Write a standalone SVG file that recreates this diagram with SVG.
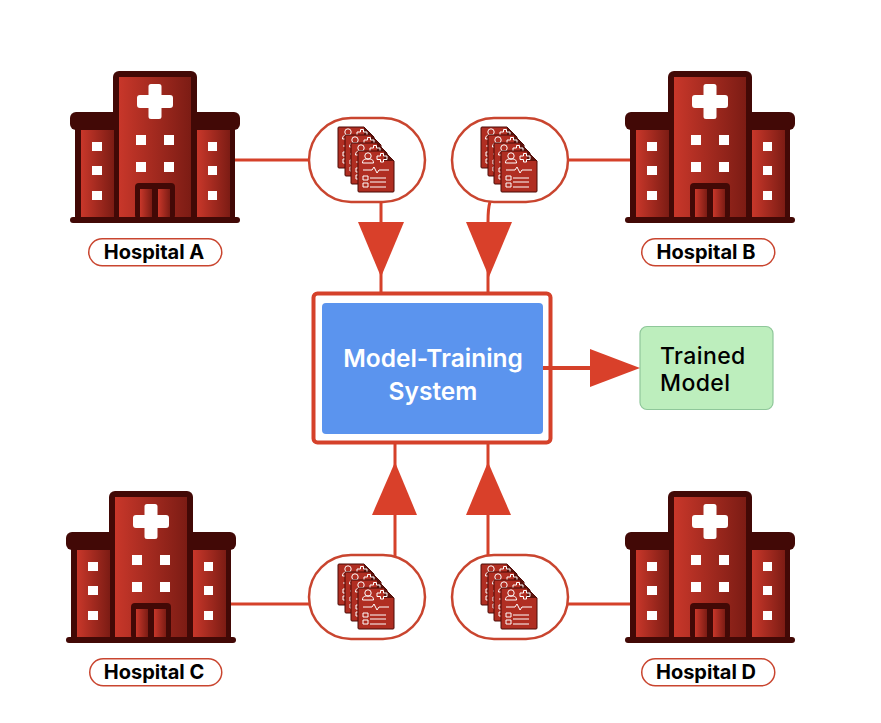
<svg xmlns="http://www.w3.org/2000/svg" width="881" height="723" viewBox="0 0 881 723">
<style>
.ln{fill:none;stroke:#d5412a;stroke-width:3}
.tri{fill:#d9402a}
.pill{fill:#fff;stroke:#c9452f;stroke-width:2.5}
.lab{fill:#fff;stroke:#c9452f;stroke-width:1.5}
.t{font-family:"Inter","Liberation Sans",sans-serif;font-weight:700;text-anchor:middle}
.dk{fill:#420906}
.w{fill:#fff}
</style>
<defs>
<linearGradient id="g"><stop offset="0" stop-color="#c8372a"/><stop offset="1" stop-color="#7c1c14"/></linearGradient>
<g id="hosp">
<rect class="dk" x="75" y="125" width="160" height="95"/>
<rect class="dk" x="70" y="112" width="170" height="18" rx="6"/>
<rect class="dk" x="113" y="71" width="84" height="150" rx="6"/>
<rect class="dk" x="70" y="217" width="170" height="6" rx="3"/>
<rect x="81" y="130" width="33" height="87" fill="url(#g)"/>
<rect x="197" y="130" width="33" height="87" fill="url(#g)"/>
<rect x="119" y="77" width="72" height="140" fill="url(#g)"/>
<path class="w" d="M151 84h8a2.500 2.500 0 0 1 2.500 2.500v8.500h8.500a3 3 0 0 1 3 3v7a3 3 0 0 1-3 3h-8.500v8.500a2.500 2.500 0 0 1-2.500 2.500h-8a2.500 2.500 0 0 1-2.500-2.500v-8.500h-8.500a3 3 0 0 1-3-3v-7a3 3 0 0 1 3-3h8.500v-8.500a2.500 2.500 0 0 1 2.500-2.500z"/>
<path class="w" d="M136 135h10v10h-10zM164 135h10v10h-10zM136 162h10v10h-10zM164 162h10v10h-10zM92 142h10v9h-10zM92 166h10v9h-10zM92 191h10v9h-10zM208 142h9v9h-9zM208 166h9v9h-9zM208 191h9v9h-9z"/>
<rect class="dk" x="135" y="183" width="40" height="36" rx="4"/>
<rect x="140" y="189" width="12" height="28" fill="url(#g)"/>
<rect x="158" y="189" width="12" height="28" fill="url(#g)"/>
</g>
<g id="sheet">
<path d="M1 0h25l10 10v30a1 1 0 0 1-1 1h-34a1 1 0 0 1-1-1v-39a1 1 0 0 1 1-1z" fill="#b02e22" stroke="#4a0a06" stroke-width="1"/>
<path d="M26 0v10h10z" fill="#5c120c"/>
<circle cx="10" cy="5" r="3.200" fill="none" stroke="#fff" stroke-width="1"/>
<path d="M4.500 12c0-3.500 2-4 5.500-4s5.500 .5 5.500 4z" fill="none" stroke="#fff" stroke-width="1"/>
<path d="M19 5h3.500v-2.500h3v2.500h3.500v3.500h-3.500v2.500h-3v-2.500h-3.500z" fill="none" stroke="#fff" stroke-width="1"/>
<path d="M5 19h9l2-3 3 6 2-3h10" fill="none" stroke="#fff" stroke-width="1"/>
<path d="M5 25h5v4h-5zM5 32h5v4h-5z" fill="none" stroke="#fff" stroke-width="1"/>
<path d="M12 27h16M12 31h16M12 36h16" stroke="#fff" stroke-width="1"/>
</g>
<g id="docs">
<use href="#sheet" x="338" y="127"/>
<use href="#sheet" x="345" y="135"/>
<use href="#sheet" x="351" y="143"/>
<use href="#sheet" x="358" y="151"/>
</g>
</defs>
<rect width="881" height="723" fill="#fff"/>
<g id="hospital-a"><use href="#hosp"/><rect class="lab" x="88.750" y="238.750" width="133" height="27" rx="13.500"/><text class="t" x="154" y="259" font-size="20">Hospital A</text></g>
<g id="hospital-b"><use href="#hosp" x="555"/><rect class="lab" x="641.750" y="238.750" width="133" height="27" rx="13.500"/><text class="t" x="706" y="259" font-size="20">Hospital B</text></g>
<g id="hospital-c"><use href="#hosp" x="-4" y="420"/><rect class="lab" x="89.750" y="658.750" width="132" height="27" rx="13.500"/><text class="t" x="154" y="679" font-size="20">Hospital C</text></g>
<g id="hospital-d"><use href="#hosp" x="555" y="420"/><rect class="lab" x="641.750" y="658.750" width="133" height="27" rx="13.500"/><text class="t" x="706" y="679" font-size="20">Hospital D</text></g>
<g id="records-a"><rect class="pill" x="309" y="118" width="116" height="84" rx="42"/><use href="#docs"/></g>
<g id="records-b"><rect class="pill" x="452" y="118" width="116" height="84" rx="42"/><use href="#docs" x="143"/></g>
<g id="records-c"><rect class="pill" x="309" y="555" width="116" height="84" rx="42"/><use href="#docs" y="437"/></g>
<g id="records-d"><rect class="pill" x="452" y="555" width="116" height="84" rx="42"/><use href="#docs" x="143" y="437"/></g>
<g id="model-training-system">
<rect x="313.500" y="293.500" width="237" height="149" rx="4" fill="#fff" stroke="#d5412a" stroke-width="4"/>
<rect x="322" y="303" width="221" height="131" rx="4" fill="#5b94ee"/>
<text class="t" x="433" y="367" font-size="24.500" fill="#fff" style="font-weight:600">Model-Training</text>
<text class="t" x="433" y="400" font-size="24.500" fill="#fff" style="font-weight:600">System</text>
</g>
<g id="trained-model">
<rect x="640" y="326.500" width="133" height="83" rx="7" fill="#bdeebd" stroke="#8fc79a" stroke-width="1.200"/>
<text x="660" y="364" font-size="23" letter-spacing="0.400" font-family="Inter,'Liberation Sans',sans-serif" font-weight="500" fill="#000">Trained</text>
<text x="660" y="391" font-size="23" letter-spacing="0.400" font-family="Inter,'Liberation Sans',sans-serif" font-weight="500" fill="#000">Model</text>
</g>
<g id="connectors">
<path class="ln" d="M235 160H309M381 202Q381 208 381 222V292"/>
<path class="ln" d="M568 160H630M490 202Q488 208 488 222V292"/>
<path class="ln" d="M231 604H309M395 444V556"/>
<path class="ln" d="M568 604H630M488 444V556"/>
<path d="M543 368H592" fill="none" stroke="#d5412a" stroke-width="4"/>
<path class="tri" d="M358 222H404L381 277z"/>
<path class="tri" d="M466 222H512L489 277z"/>
<path class="tri" d="M372 515H417L395 462z"/>
<path class="tri" d="M466 515H511L488 462z"/>
<path class="tri" d="M590 349V387L640 368z"/>
</g>
</svg>
